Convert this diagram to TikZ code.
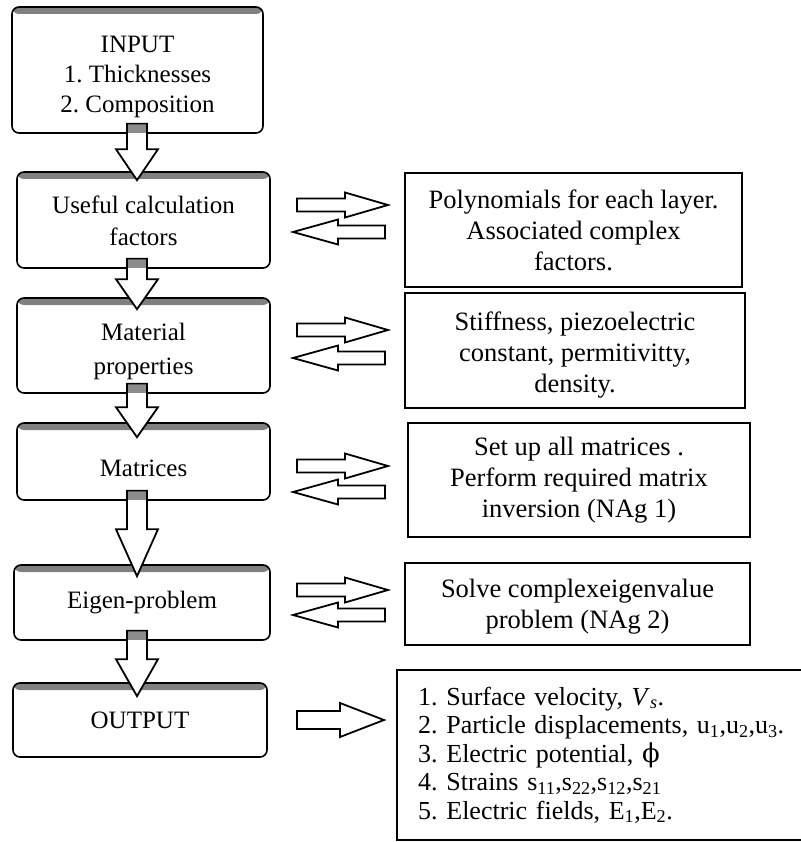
\documentclass[tikz,border=0pt]{standalone}
\usepackage{fontspec}
\setmainfont{Liberation Serif}
\newfontfamily\symfont{DejaVu Serif}
\usetikzlibrary{calc}
\frenchspacing
\tikzset{
  lbox/.style={draw, line width=1.6pt, rounded corners=7pt, fill=white, align=center, inner sep=0pt,
    font=\fontsize{25}{30}\selectfont,
    path picture={\fill[black!50] (path picture bounding box.north west) rectangle ([yshift=-7pt]path picture bounding box.north east);}},
  rbox/.style={draw, line width=1.8pt, align=center, inner sep=0pt, font=\fontsize{26.5}{31}\selectfont},
  rline/.style={line width=1.8pt},
  barrow/.style={draw, line width=1.8pt, fill=white, line join=miter},
  capfill/.style={fill=black!45},
}
% down block arrow: from, to, head length, tip offset below top of target
\newcommand\DArr[4]{%
  \draw[barrow] ($(#1.south -| ax)+(-10,-10)$) -- ($(#2.north -| ax)+(-10,#4-#3)$) -- ($(#2.north -| ax)+(-21,#4-#3)$)
    -- ($(#2.north -| ax)+(0,#4)$) -- ($(#2.north -| ax)+(21,#4-#3)$) -- ($(#2.north -| ax)+(10,#4-#3)$)
    -- ($(#1.south -| ax)+(10,-10)$) -- cycle;
  \fill[capfill] ($(#1.south -| ax)+(-9,-9)$) rectangle ($(#1.south -| ax)+(9,-1)$);}
% right block arrow at y
\newcommand\RArr[1]{%
  \draw[barrow] (297,#1-6.5) -- (345,#1-6.5) -- (345,#1-12.5) -- (388,#1) -- (345,#1+12.5) -- (345,#1+6.5) -- (297,#1+6.5) -- cycle;}
\newcommand\LArr[1]{%
  \draw[barrow] (385,#1-6.5) -- (338,#1-6.5) -- (338,#1-12.5) -- (293,#1) -- (338,#1+12.5) -- (338,#1+6.5) -- (385,#1+6.5) -- cycle;}
\newcommand\tightlines{\lineskiplimit=-100pt\relax}
\newcommand\pad[1]{\rule{0pt}{#1pt}}
\begin{document}
\begin{tikzpicture}[x=1pt,y=-1pt]
\useasboundingbox (0,0) rectangle (800,842);
\fill[white] (0,0) rectangle (800,842);
\coordinate (ax) at (137,0);
% left column
\node[lbox, minimum width=251pt, minimum height=126pt] (in) at (137.5,70) {\pad{31}INPUT\\1. Thicknesses\\2. Composition};
\node[lbox, minimum width=253pt, minimum height=96pt] (uc) at (143.5,220) {\pad{19}Useful calculation\\[2pt]factors};
\node[lbox, minimum width=253pt, minimum height=95pt] (mp) at (143.5,345.5) {\pad{29}Material\\[4pt]properties};
\node[lbox, minimum width=253pt, minimum height=77pt] (mx) at (143.5,461.5) {\pad{31}Matrices};
\node[lbox, minimum width=256pt, minimum height=75pt] (ep) at (142,602.5) {Eigen-problem};
\node[lbox, minimum width=254pt, minimum height=74pt] (op) at (140,720) {OUTPUT};
% right column
\node[rbox, minimum width=337pt, minimum height=114pt] (r1) at (573.5,230) {Polynomials for each layer.\\Associated complex\\factors.};
\node[rbox, minimum width=340pt, minimum height=115pt] (r2) at (575,350.5) {\pad{28}Stiffness, piezoelectric\\constant, permitivitty,\\density.};
\node[rbox, minimum width=342pt, minimum height=114pt] (r3) at (579,480) {Set up all matrices .\\Perform required matrix\\inversion (NAg 1)};
\node[rbox, minimum width=345pt, minimum height=82pt] (r4) at (577.5,604) {\pad{24}Solve complexeigenvalue\\problem (NAg 2)};
\node[minimum width=430pt, minimum height=170pt, inner sep=0pt] (r5) at (612,755) {};
\draw[rline] (r5.north east) -- (r5.north west) -- (r5.south west) -- (r5.south east);
\node[anchor=west, inner sep=0pt, align=left, text width=380pt,
  font=\fontsize{26}{28.5}\selectfont] (r5t) at (418,755) {\tightlines
1. Surface velocity, \textit{V}\textsubscript{\textit{s}}.\\
2. Particle displacements, u\textsubscript{1},u\textsubscript{2},u\textsubscript{3}.\\
3. Electric potential, {\symfont ϕ}\\
4. Strains s\textsubscript{11},s\textsubscript{22},s\textsubscript{12},s\textsubscript{21}\\
5. Electric fields, E\textsubscript{1},E\textsubscript{2}.};
% vertical flow arrows
\DArr{in}{uc}{31}{9}
\DArr{uc}{mp}{30}{12}
\DArr{mp}{mx}{30}{15}
\DArr{mx}{ep}{47}{12}
\DArr{ep}{op}{37}{14}
% horizontal exchange arrows
\RArr{205}\LArr{232}
\RArr{330}\LArr{358}
\RArr{466}\LArr{492}
\RArr{590}\LArr{615}
\draw[barrow] (297,711) -- (340,711) -- (340,703) -- (384,720) -- (340,737) -- (340,729) -- (297,729) -- cycle;
\end{tikzpicture}
\end{document}
